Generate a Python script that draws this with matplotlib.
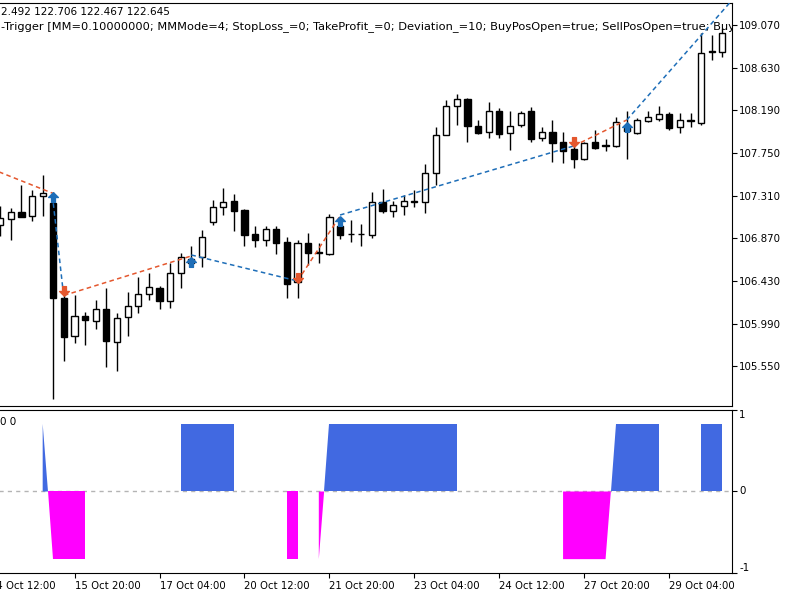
import numpy as np
import matplotlib.pyplot as plt

# H4 bars, index 0 = first (partly hidden) bar on the left
opens = [107.008, 107.067, 107.146, 107.101, 107.307, 107.232, 106.253, 105.864, 106.070, 106.019,
         106.146, 105.797, 106.063, 106.173, 106.294, 106.356, 106.225, 106.511, 106.617, 106.675,
         107.042, 107.197, 107.254, 107.163, 106.913, 106.854, 106.967, 106.830, 106.421, 106.820,
         106.725, 106.706, 106.998, 106.913, 106.919, 106.905, 107.242, 107.153, 107.204, 107.246,
         107.249, 107.541, 107.936, 108.235, 108.307, 108.032, 107.962, 108.184, 107.954, 108.039,
         108.187, 107.902, 107.964, 107.861, 107.792, 107.686, 107.861, 107.830, 107.823, 108.008,
         107.954, 108.084, 108.098, 108.150, 108.016, 108.081, 108.057, 108.792, 108.795]
highs = [107.204, 107.187, 107.421, 107.369, 107.519, 107.349, 106.318, 106.287, 106.112, 106.235,
         106.356, 106.104, 106.321, 106.475, 106.517, 106.380, 106.620, 106.723, 106.792, 106.954,
         107.266, 107.390, 107.325, 107.173, 106.993, 107.001, 107.001, 106.888, 106.854, 106.923,
         106.820, 107.117, 107.065, 107.060, 107.019, 107.349, 107.377, 107.253, 107.313, 107.369,
         107.637, 108.022, 108.302, 108.354, 108.313, 108.091, 108.280, 108.211, 108.184, 108.179,
         108.228, 108.022, 108.091, 107.964, 107.833, 107.867, 107.988, 107.892, 108.119, 108.184,
         108.108, 108.184, 108.235, 108.176, 108.160, 108.166, 108.985, 108.967, 109.036]
lows = [106.895, 106.854, 107.086, 107.053, 107.101, 105.212, 105.606, 105.789, 105.771, 105.933,
        105.548, 105.508, 105.864, 106.098, 106.235, 106.139, 106.156, 106.356, 106.586, 106.575,
        107.003, 107.112, 106.947, 106.795, 106.782, 106.795, 106.706, 106.253, 106.253, 106.596,
        106.617, 106.704, 106.864, 106.828, 106.787, 106.874, 107.127, 107.094, 107.112, 107.189,
        107.129, 107.424, 107.936, 108.039, 107.864, 107.944, 107.902, 107.902, 107.782, 108.019,
        107.867, 107.874, 107.661, 107.651, 107.599, 107.678, 107.795, 107.774, 107.816, 107.686,
        107.943, 108.073, 108.084, 107.988, 107.954, 108.022, 108.039, 108.709, 108.737]
closes = [107.081, 107.146, 107.094, 107.311, 107.341, 106.253, 105.857, 106.075, 106.029, 106.146,
          105.809, 106.047, 106.173, 106.294, 106.366, 106.225, 106.511, 106.675, 106.658, 106.882,
          107.197, 107.249, 107.153, 106.908, 106.854, 106.967, 106.820, 106.400, 106.820, 106.717,
          106.715, 107.088, 106.905, 106.919, 106.913, 107.249, 107.151, 107.215, 107.256, 107.254,
          107.541, 107.936, 108.238, 108.304, 108.032, 107.954, 108.184, 107.947, 108.032, 108.160,
          107.890, 107.970, 107.851, 107.774, 107.686, 107.851, 107.799, 107.823, 108.073, 107.977,
          108.091, 108.119, 108.150, 108.005, 108.091, 108.086, 108.785, 108.797, 108.985]

# indicator histogram (nan = empty buffer)
n = np.nan
signal = [n, n, n, n, 0.83, -0.83, -0.83, -0.83, -0.83, n,
          n, n, n, n, n, n, n, 0.83, 0.83, 0.83,
          0.83, 0.83, 0.83, n, n, n, n, -0.83, -0.83, n,
          -0.83, 0.83, 0.83, 0.83, 0.83, 0.83, 0.83, 0.83, 0.83, 0.83,
          0.83, 0.83, 0.83, 0.83, n, n, n, n, n, n,
          n, n, n, -0.83, -0.83, -0.83, -0.83, -0.83, 0.83, 0.83,
          0.83, 0.83, 0.83, n, n, n, 0.83, 0.83, 0.83]

# trades: (bar from, bar to) and (price from, price to)
sell_seg_bars = [(-2, 5), (6, 18), (28, 32), (54, 59)]
sell_seg_prices = [(107.638, 107.333), (106.282, 106.689), (106.431, 107.101), (107.823, 108.091)]
buy_seg_bars = [(5, 6), (18, 28), (32, 54), (59, 70)]
buy_seg_prices = [(107.232, 106.253), (106.699, 106.431), (107.111, 107.823), (108.091, 109.462)]

buy_bars = [5, 18, 32, 59]
buy_prices = [107.292, 106.630, 107.049, 108.018]
sell_bars = [6, 28, 54]
sell_prices = [106.328, 106.462, 107.867]

price_ticks = [105.550, 105.990, 106.430, 106.870, 107.310, 107.750, 108.190, 108.630, 109.070]
date_bars = [-1, 7, 15, 23, 31, 39, 47, 55, 63]
date_labels = ['14 Oct 12:00', '15 Oct 20:00', '17 Oct 04:00', '20 Oct 12:00', '21 Oct 20:00',
               '23 Oct 04:00', '24 Oct 12:00', '27 Oct 20:00', '29 Oct 04:00']

header1 = '2.492 122.706 122.467 122.645'
header2 = ('-Trigger [MM=0.10000000; MMMode=4; StopLoss_=0; TakeProfit_=0; Deviation_=10; '
           'BuyPosOpen=true; SellPosOpen=true; BuyP')

RED = '#e4572e'
BLUE = '#1e6eb8'

x = np.arange(len(opens))
o = np.array(opens); c = np.array(closes)
h = np.array(highs); l = np.array(lows)
sig = np.array(signal)

fig = plt.figure(figsize=(8, 6), dpi=100)
ax = fig.add_axes([-0.025, 0.32333, 0.94, 0.67167])
ax2 = fig.add_axes([-0.025, 0.045, 0.94, 0.27167])

# candles
ax.vlines(x, l, h, colors='black', lw=1, zorder=2)
body_col = ['white' if cc >= oo else 'black' for oo, cc in zip(o, c)]
ax.bar(x, np.maximum(np.abs(c - o), 0.004), bottom=np.minimum(o, c), width=0.58,
       color=body_col, edgecolor='black', linewidth=1, zorder=3)

# trade lines
dash = (0, (3, 2.2))
for (b0, b1), (p0, p1) in zip(sell_seg_bars, sell_seg_prices):
    ax.plot([b0, b1], [p0, p1], color=RED, lw=1.1, ls=dash, zorder=4)
for (b0, b1), (p0, p1) in zip(buy_seg_bars, buy_seg_prices):
    ax.plot([b0, b1], [p0, p1], color=BLUE, lw=1.1, ls=dash, zorder=4)

up_arrow = [(0, 1), (1, 0), (0.4, 0), (0.4, -1), (-0.4, -1), (-0.4, 0), (-1, 0), (0, 1)]
down_arrow = [(px, -py) for px, py in up_arrow]
ax.plot(buy_bars, buy_prices, ls='none', marker=up_arrow, ms=7, color=BLUE, mec=BLUE, zorder=5)
ax.plot(sell_bars, sell_prices, ls='none', marker=down_arrow, ms=7, color=RED, mec=RED, zorder=5)

xlim = (-1.902, 68.907)
ax.set_xlim(*xlim)
ax.set_ylim(105.142, 109.297)
ax.yaxis.tick_right()
ax.set_yticks(price_ticks)
ax.set_yticklabels([f'{v:.3f}' for v in price_ticks])
ax.tick_params(axis='y', direction='out', length=3.6, width=0.8, pad=1.5, labelsize=7.4)
ax.tick_params(axis='x', bottom=False, labelbottom=False)
ax.spines['left'].set_visible(False)

ax.text(1 / 800, 1 - 12 / 600, header1, transform=fig.transFigure, fontsize=7.5,
        va='center', ha='left', clip_on=True)
ax.text(1 / 800, 1 - 27 / 600, header2, transform=fig.transFigure, fontsize=8.2,
        va='center', ha='left', clip_on=True)

# indicator window
ax2.axhline(0, color='#b4b4b4', lw=1, ls=(0, (3, 3)), zorder=1)
ax2.fill_between(x, 0, sig, where=sig > 0, interpolate=True, color='#4169e1', lw=0, zorder=2)
ax2.fill_between(x, 0, sig, where=sig < 0, interpolate=True, color='#ff00ff', lw=0, zorder=2)
ax2.set_xlim(*xlim)
ax2.set_ylim(-1, 1)
ax2.yaxis.tick_right()
ax2.set_yticks([1, 0, -1])
ax2.set_yticklabels(['1', '0', '-1'])
ax2.tick_params(axis='y', direction='out', length=3.6, width=0.8, pad=1.5, labelsize=7.4)
for t, va in zip(ax2.yaxis.get_major_ticks(), ['top', 'center', 'bottom']):
    t.label2.set_va(va)
ax2.set_xticks(date_bars)
ax2.set_xticklabels(date_labels)
ax2.tick_params(axis='x', direction='out', length=3.6, width=0.8, pad=2, labelsize=7.3)
plt.setp(ax2.get_xticklabels(), ha='left')
ax2.spines['left'].set_visible(False)
ax2.text(0 / 800, 1 - 421.7 / 600, '0 0', transform=fig.transFigure, fontsize=7.5,
         va='center', ha='left')

fig.savefig('out.png', dpi=100)
